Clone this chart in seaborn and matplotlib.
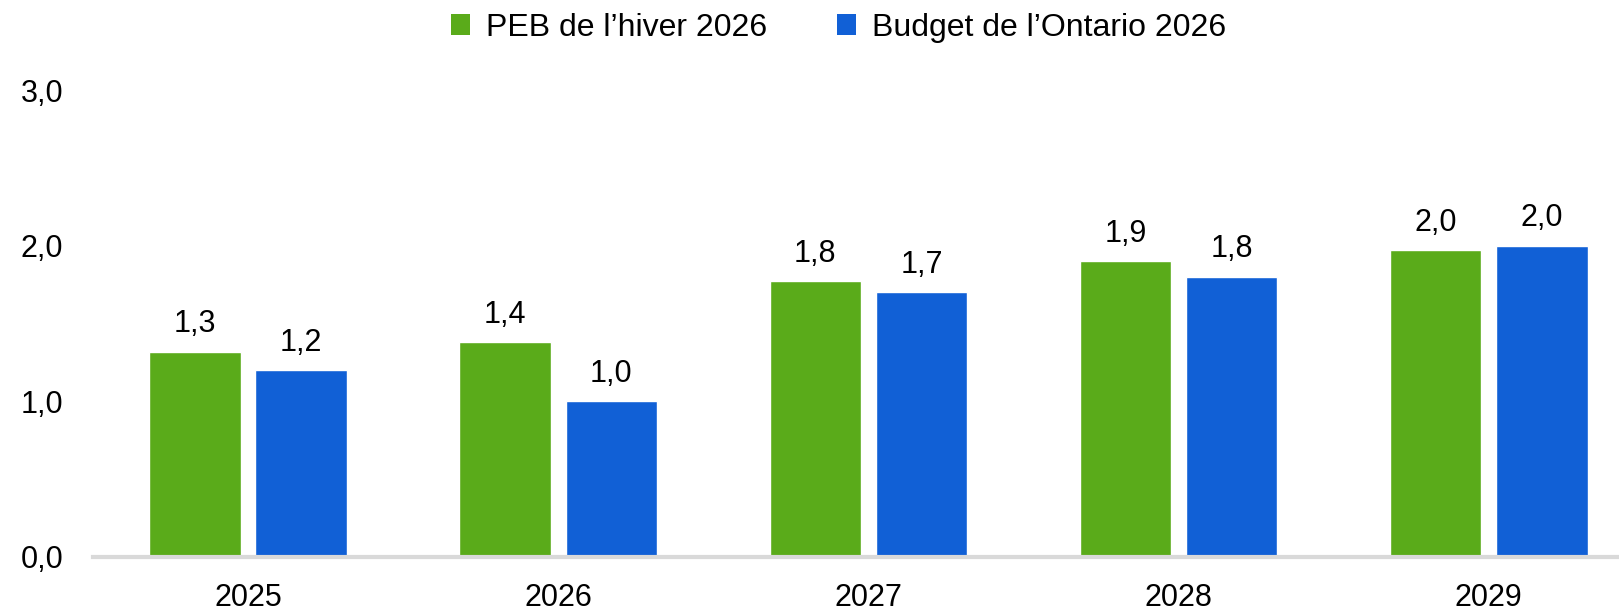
import matplotlib
matplotlib.use("Agg")
import matplotlib.pyplot as plt
import seaborn as sns
import pandas as pd
from matplotlib.patches import Patch

years = ["2025", "2026", "2027", "2028", "2029"]
peb_hiver = [1.32, 1.38, 1.77, 1.90, 1.97]
budget_ontario = [1.20, 1.00, 1.70, 1.80, 2.00]
series_names = ["PEB de l\u2019hiver 2026", "Budget de l\u2019Ontario 2026"]
colors = ["#5aab1a", "#1160d6"]
y_ticks = [0.0, 1.0, 2.0, 3.0]

df = pd.DataFrame({
    "year": years * 2,
    "value": peb_hiver + budget_ontario,
    "series": [series_names[0]] * len(years) + [series_names[1]] * len(years),
})

sns.set_theme(style="white")
plt.rcParams["font.family"] = ["Liberation Sans", "DejaVu Sans"]
FS = 22

fig = plt.figure(figsize=(16.19, 6.13), dpi=100)
ax = fig.add_axes([93 / 1619, 56 / 613, 1526 / 1619, (557 - 90) / 613])

sns.barplot(data=df, x="year", y="value", hue="series", palette=colors,
            width=0.684, gap=0.137, ax=ax, legend=False, saturation=1)

for cont in ax.containers:
    labels = [f"{b.get_height():.1f}".replace(".", ",") for b in cont]
    ax.bar_label(cont, labels=labels, padding=9, fontsize=FS, color="black")

ax.set_ylim(0, 3.0)
ax.set_xlim(-0.5, 4.42)
ax.set_yticks(y_ticks)
ax.set_yticklabels([f"{t:.1f}".replace(".", ",") for t in y_ticks], fontsize=FS, color="black")
for lbl in ax.get_yticklabels():
    lbl.set_horizontalalignment("left")
ax.tick_params(axis="y", length=0, pad=52)
ax.tick_params(axis="x", length=0, pad=19, labelsize=FS, labelcolor="black")
ax.set_xlabel("")
ax.set_ylabel("")
for s in ["top", "right", "left"]:
    ax.spines[s].set_visible(False)
ax.spines["bottom"].set_color("#d9d9d9")
ax.spines["bottom"].set_linewidth(3)

handles = [Patch(facecolor=c, edgecolor="none") for c in colors]
fig.legend(handles, series_names, loc="center", bbox_to_anchor=(0.518, 0.955),
           ncol=2, frameon=False, fontsize=23, handlelength=0.6, handleheight=0.65,
           handletextpad=0.5, columnspacing=2.2, labelcolor="black")

fig.savefig("out.png", dpi=100)
